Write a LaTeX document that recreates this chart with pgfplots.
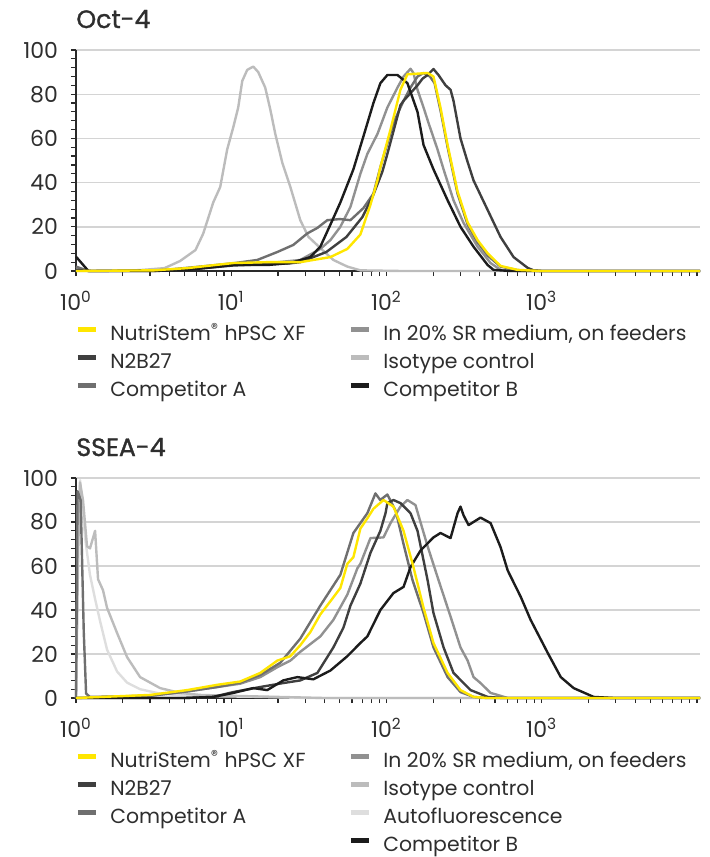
\documentclass[border=0pt]{standalone}
\usepackage{fontspec}
\setmainfont{Poppins}
\newfontfamily\titlefont{Poppins}[FakeBold=1.2]
\usepackage{pgfplots}
\pgfplotsset{compat=1.18}

\definecolor{cyel}{HTML}{FFE600}
\definecolor{cn2b}{HTML}{3F3F3F}
\definecolor{ccompa}{HTML}{6F6F6F}
\definecolor{csr}{HTML}{919191}
\definecolor{ciso}{HTML}{BCBCBC}
\definecolor{cauto}{HTML}{DEDEDE}
\definecolor{ccompb}{HTML}{1C1C1C}
\definecolor{gridc}{HTML}{D4D4D4}
\definecolor{axisc}{HTML}{2A2A2A}
\definecolor{labc}{HTML}{2E2E2E}

% x values are log10 of the intensity, so 2 means 10^2
\pgfplotsset{facs/.style={
    scale only axis, width=312pt, height=110.5pt, anchor=south west,
    xmin=0, xmax=4.02, ymin=0, ymax=100, clip=false,
    axis x line*=bottom, axis y line*=left,
    axis line style={-, line width=0.9pt, color=axisc},
    xtick={0,1,2,3},
    xticklabels={10\textsuperscript{0},10\textsuperscript{1},10\textsuperscript{2},10\textsuperscript{3}},
    minor xtick={0.301,0.477,0.602,0.699,0.778,0.845,0.903,0.954,
                 1.301,1.477,1.602,1.699,1.778,1.845,1.903,1.954,
                 2.301,2.477,2.602,2.699,2.778,2.845,2.903,2.954,
                 3.301,3.477,3.602,3.699,3.778,3.845,3.903,3.954,4},
    ytick={0,20,...,100}, minor y tick num=4,
    tick align=outside, major tick length=2.5pt, minor tick length=2.5pt,
    tick style={line width=0.6pt, color=axisc},
    ymajorgrids, major grid style={line width=0.7pt, color=gridc},
    tick label style={font=\fontsize{11}{13}\selectfont, text=labc},
    xticklabel style={yshift=-4pt},
    yticklabel style={xshift=-3pt},
    /pgf/number format/assume math mode=true,
    legend cell align=left,
    legend style={at={(axis description cs:0,0)}, anchor=north west,
        xshift=-0.5pt, yshift=-27pt, draw=none, fill=none, inner sep=0pt,
        column sep=6pt, row sep=4pt,
        font=\fontsize{10.2}{12}\selectfont, text=labc,
        nodes={inner sep=0pt, text height=7.5pt, text depth=2.5pt}},
    legend image code/.code={\path (0pt,0pt); \draw[#1, line width=2.5pt] (0pt,2.8pt) -- (9pt,2.8pt);},
    every axis plot/.append style={line width=1.2pt, line join=round, forget plot},
}}

\begin{document}
\begin{tikzpicture}
\useasboundingbox (0pt,0pt) rectangle (354.5pt,-428.5pt);

\node[anchor=base west, inner sep=0pt, font=\titlefont\fontsize{12.6}{14}\selectfont, text=labc] at (38pt,-14pt) {Oct-4};
\node[anchor=base west, inner sep=0pt, font=\titlefont\fontsize{12.6}{14}\selectfont, text=labc] at (38pt,-228pt) {SSEA-4};

% ---------------- Oct-4 ----------------
\begin{axis}[facs, at={(38pt,-135.5pt)}, legend columns=3, transpose legend]
% Isotype control
\addplot[ciso] coordinates {
(0,0)(0.3,0)(0.43,0.5)(0.57,1.3)(0.67,4.5)(0.77,9.5)(0.82,17)(0.884,31)(0.929,38)
(0.974,55)(1.013,65)(1.045,74)(1.071,86)(1.103,91)(1.142,92.5)(1.174,90)(1.219,83)
(1.252,73)(1.284,62)(1.329,49)(1.381,38)(1.445,23)(1.497,15.5)(1.574,10.4)(1.658,5)
(1.748,2)(1.832,0.3)(2.1,0)(4.02,0)};
% In 20% SR medium, on feeders
\addplot[csr] coordinates {
(0,1)(0.08,0)(0.5,0)(0.8,1.5)(1.013,3)(1.232,3.5)(1.445,5)(1.574,10)(1.639,14)(1.703,20)
(1.768,29)(1.832,44)(1.877,53)(1.942,62)(2.006,74)(2.071,83)(2.11,88)(2.155,91.5)
(2.174,89.6)(2.2,82)(2.239,74)(2.271,67)(2.329,55)(2.368,46)(2.432,32)(2.497,21.7)
(2.587,11)(2.671,3.6)(2.735,0.5)(2.85,0)(4.02,0)};
% Competitor A
\addplot[ccompa] coordinates {
(0,2)(0.08,0)(0.5,0)(0.8,2)(1.013,3.5)(1.168,5)(1.297,8.6)(1.4,11.8)(1.49,17)(1.555,19.5)
(1.619,23)(1.7,23.5)(1.768,23)(1.852,28.5)(1.916,35)(1.961,47)(2.045,67)(2.11,77)
(2.155,83)(2.2,88)(2.239,89.6)(2.28,88)(2.31,85)(2.35,72)(2.394,56)(2.458,35)(2.523,21)
(2.587,13)(2.652,7)(2.735,2)(2.845,0.4)(3.0,0)(4.02,0)};
% N2B27
\addplot[cn2b] coordinates {
(0,0.5)(0.1,0)(0.7,0.5)(1.013,2.5)(1.381,3.5)(1.445,4)(1.613,8.6)(1.742,15.4)(1.845,24.4)
(1.91,33.5)(1.974,45)(2.006,53)(2.09,75)(2.11,77)(2.155,80.5)(2.2,84)(2.232,87)
(2.265,88.7)(2.303,91.4)(2.335,88.7)(2.381,84)(2.413,82)(2.432,77)(2.477,60)(2.52,50)
(2.561,41)(2.652,27.6)(2.735,15.4)(2.819,6.3)(2.91,1.4)(2.948,0.3)(3.0,0)(4.02,0)};
% Competitor B
\addplot[ccompb] coordinates {
(0,6.5)(0.08,0)(0.5,0)(0.716,0.5)(1.013,2.7)(1.232,2.7)(1.381,3.6)(1.51,6.3)(1.574,11)
(1.639,21)(1.703,31)(1.787,46)(1.852,61)(1.916,76)(1.961,85)(2.006,88.7)(2.071,88.7)
(2.135,85)(2.2,72)(2.239,57)(2.303,46)(2.394,32)(2.477,20)(2.561,11)(2.652,2.7)
(2.69,0.5)(2.8,0)(4.02,0)};
% NutriStem hPSC XF
\addplot[cyel] coordinates {
(0,0)(0.5,0.3)(0.716,1.3)(1.013,3.6)(1.232,4)(1.445,4)(1.639,6.3)(1.748,10)(1.832,16.5)
(1.897,30)(1.942,41)(1.961,47)(2.026,64)(2.09,82)(2.135,89)(2.265,89.6)(2.303,88)
(2.348,74)(2.394,57)(2.458,36)(2.523,22)(2.587,14)(2.652,8)(2.735,2.3)(2.845,0.5)
(3.0,0)(4.02,0)};

\addlegendimage{cyel}   \addlegendentry{\makebox[113pt][l]{NutriStem\textsuperscript{®} hPSC XF}}
\addlegendimage{cn2b}   \addlegendentry{\makebox[113pt][l]{N2B27}}
\addlegendimage{ccompa} \addlegendentry{\makebox[113pt][l]{Competitor A}}
\addlegendimage{csr}    \addlegendentry{In 20\% SR medium, on feeders}
\addlegendimage{ciso}   \addlegendentry{Isotype control}
\addlegendimage{ccompb} \addlegendentry{Competitor B}
\end{axis}

% ---------------- SSEA-4 ----------------
\begin{axis}[facs, at={(38pt,-349pt)}, height=110pt, legend columns=4, transpose legend]
% Autofluorescence
\addplot[cauto] coordinates {
(0,0)(0.012,70)(0.026,99)(0.039,88)(0.06,72)(0.09,56)(0.123,45)(0.155,35)(0.2,22)
(0.265,12)(0.329,7)(0.413,4)(0.542,2)(0.716,1)(0.9,0.8)(1.2,0.5)(1.5,0)(4.02,0)};
% Isotype control
\addplot[ciso] coordinates {
(0,0)(0.015,70)(0.026,98)(0.045,90)(0.071,69)(0.09,68)(0.123,76)(0.142,54)(0.174,49)
(0.2,41)(0.265,29.5)(0.329,18.6)(0.413,9.5)(0.542,4.5)(0.671,2.3)(0.8,1.4)(1.0,1)
(1.3,0.5)(1.6,0)(4.02,0)};
% In 20% SR medium, on feeders
\addplot[csr] coordinates {
(0,0)(0.2,0.5)(0.477,1)(0.716,3)(0.91,5)(1.058,6.5)(1.187,9.5)(1.297,14)(1.381,17)
(1.445,21)(1.574,28)(1.658,35.5)(1.748,47)(1.813,59)(1.832,61)(1.897,72.7)(1.981,73)
(2.026,79.5)(2.09,87)(2.135,90)(2.187,87.7)(2.219,80)(2.265,69)(2.329,55)(2.413,37)
(2.477,23)(2.523,17)(2.561,9.5)(2.606,6.8)(2.671,2.3)(2.716,1.4)(2.781,0)(4.02,0)};
% Competitor A
\addplot[ccompa] coordinates {
(0,0)(0.01,94)(0.03,90)(0.05,30)(0.065,2)(0.09,0.5)(0.477,1)(0.716,3)(0.91,5)(1.058,7)
(1.187,10.5)(1.316,16)(1.445,27)(1.574,42)(1.703,56)(1.787,75)(1.877,84)(1.929,93)
(1.96,90)(2.006,92.5)(2.06,85)(2.11,70)(2.168,53.6)(2.239,38.6)(2.303,23)(2.394,9.5)
(2.477,2.7)(2.561,0.5)(2.65,0)(4.02,0)};
% N2B27
\addplot[cn2b] coordinates {
(0,0)(0.7,0)(0.884,0.5)(1.013,2.7)(1.187,5)(1.335,6.8)(1.445,8)(1.555,11.4)(1.658,23)
(1.723,32)(1.768,42)(1.832,52)(1.897,66)(1.961,76)(1.994,84)(2.006,88.6)(2.045,90)
(2.09,88.6)(2.155,84)(2.2,76)(2.265,53.6)(2.303,38.6)(2.368,23)(2.432,11.4)(2.542,3.6)
(2.652,0.5)(2.75,0)(4.02,0)};
% Competitor B
\addplot[ccompb] coordinates {
(0,0)(0.7,0)(0.884,0.5)(1.013,2.3)(1.142,4.5)(1.232,3.6)(1.335,8)(1.426,9.5)(1.529,8.5)
(1.639,12.5)(1.748,19)(1.832,25)(1.877,28)(1.961,40)(2.045,47.7)(2.11,50.5)(2.155,59.5)
(2.219,67)(2.303,73)(2.348,75)(2.413,72.7)(2.458,84)(2.477,87)(2.497,83)(2.529,78.6)
(2.606,82)(2.671,79.5)(2.735,68.6)(2.781,58)(2.865,46)(2.929,35.5)(3.039,20.5)
(3.123,9.5)(3.206,4.5)(3.335,0.5)(3.465,0)(4.02,0)};
% NutriStem hPSC XF
\addplot[cyel] coordinates {
(0,0)(0.477,1.4)(0.716,3.6)(0.91,6)(1.058,7.5)(1.187,11.4)(1.297,17)(1.381,19)(1.445,24)
(1.51,30)(1.574,38)(1.639,44)(1.703,50)(1.748,61)(1.787,64)(1.832,77)(1.88,82)
(1.916,86)(1.981,90)(2.045,87)(2.11,76)(2.174,59.5)(2.239,41)(2.303,25)(2.394,11.4)
(2.477,3.6)(2.561,0.5)(2.652,0)(4.02,0)};

\addlegendimage{cyel}   \addlegendentry{\makebox[113pt][l]{NutriStem\textsuperscript{®} hPSC XF}}
\addlegendimage{cn2b}   \addlegendentry{\makebox[113pt][l]{N2B27}}
\addlegendimage{ccompa} \addlegendentry{\makebox[113pt][l]{Competitor A}}
\addlegendimage{empty legend} \addlegendentry{}
\addlegendimage{csr}    \addlegendentry{In 20\% SR medium, on feeders}
\addlegendimage{ciso}   \addlegendentry{Isotype control}
\addlegendimage{cauto}  \addlegendentry{Autofluorescence}
\addlegendimage{ccompb} \addlegendentry{Competitor B}
\end{axis}
\end{tikzpicture}
\end{document}
